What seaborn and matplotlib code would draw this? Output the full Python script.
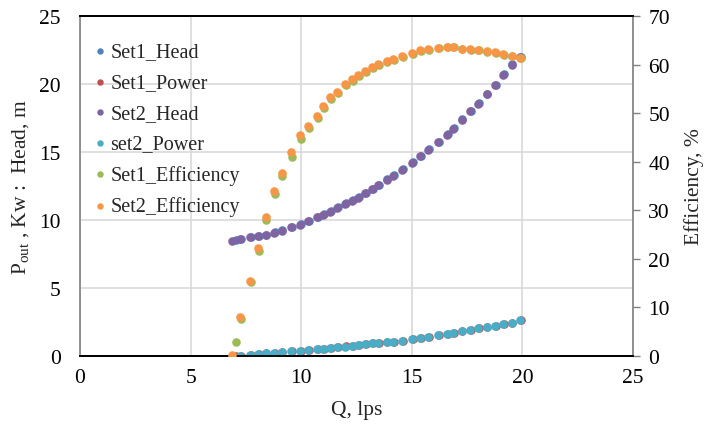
import matplotlib
matplotlib.use("Agg")
import matplotlib.pyplot as plt
import seaborn as sns
import pandas as pd

# ---- data ----
q_set1 = [7.05, 7.27, 7.72, 8.10, 8.43, 8.83, 9.15, 9.58, 10.00, 10.36, 10.74, 11.05, 11.34,
          11.67, 12.02, 12.32, 12.62, 12.92, 13.23, 13.53, 13.90, 14.20, 14.58, 15.04, 15.41,
          15.80, 16.24, 16.62, 16.92, 17.29, 17.67, 18.04, 18.42, 18.80, 19.17, 19.55, 19.93]
head_set1 = [8.50, 8.60, 8.75, 8.86, 8.93, 9.10, 9.25, 9.50, 9.70, 9.93, 10.22, 10.43, 10.63,
             10.92, 11.23, 11.46, 11.68, 11.98, 12.30, 12.60, 13.00, 13.30, 13.72, 14.25, 14.74,
             15.20, 15.76, 16.30, 16.74, 17.40, 18.05, 18.60, 19.30, 19.95, 20.70, 21.45, 22.00]
power_set1 = [0.00, 0.02, 0.08, 0.15, 0.20, 0.25, 0.29, 0.35, 0.38, 0.43, 0.50, 0.52, 0.58,
              0.65, 0.70, 0.75, 0.82, 0.88, 0.93, 0.96, 1.01, 1.06, 1.12, 1.27, 1.32,
              1.41, 1.53, 1.63, 1.70, 1.82, 1.92, 2.04, 2.12, 2.24, 2.34, 2.46, 2.62]
eff_set1 = [2.95, 7.6, 15.2, 21.7, 28.0, 33.3, 37.0, 41.0, 44.6, 47.0, 49.0, 51.0, 52.9,
            54.1, 55.7, 56.7, 57.6, 58.5, 59.3, 59.9, 60.5, 60.9, 61.6, 62.2, 62.7,
            63.1, 63.4, 63.6, 63.6, 63.3, 63.1, 62.9, 62.6, 62.3, 62.0, 61.7, 61.3]

q_set2 = [6.86, 7.23, 7.69, 8.06, 8.39, 8.79, 9.11, 9.54, 9.95, 10.32, 10.70, 11.00, 11.30,
          11.63, 11.98, 12.28, 12.58, 12.88, 13.19, 13.49, 13.86, 14.16, 14.54, 15.00, 15.37,
          15.75, 16.20, 16.58, 16.88, 17.25, 17.63, 18.00, 18.38, 18.76, 19.13, 19.51, 19.89]
head_set2 = [8.43, 8.60, 8.73, 8.85, 8.90, 9.07, 9.22, 9.46, 9.66, 9.90, 10.20, 10.40, 10.60,
             10.88, 11.20, 11.43, 11.64, 11.95, 12.27, 12.56, 12.96, 13.26, 13.68, 14.20, 14.70,
             15.15, 15.71, 16.25, 16.69, 17.38, 18.00, 18.56, 19.30, 19.90, 20.65, 21.40, 21.95]
power_set2 = [0.00, 0.02, 0.07, 0.15, 0.20, 0.24, 0.28, 0.34, 0.37, 0.42, 0.49, 0.51, 0.57,
              0.64, 0.69, 0.74, 0.81, 0.87, 0.92, 0.95, 1.00, 1.05, 1.10, 1.26, 1.31,
              1.40, 1.52, 1.62, 1.69, 1.81, 1.91, 2.03, 2.11, 2.23, 2.33, 2.45, 2.62]
eff_set2 = [0.3, 8.1, 15.5, 22.2, 28.55, 34.0, 37.7, 41.9, 45.4, 47.4, 49.5, 51.5, 53.3,
            54.4, 56.1, 57.0, 57.9, 58.7, 59.6, 60.1, 60.7, 61.1, 61.8, 62.4, 62.9,
            63.2, 63.5, 63.7, 63.7, 63.3, 63.2, 63.1, 62.7, 62.5, 62.2, 61.8, 61.4]

x_ticks = [0, 5, 10, 15, 20, 25]
left_ticks = [0, 5, 10, 15, 20, 25]
right_ticks = [0, 10, 20, 30, 40, 50, 60, 70]

labels = ["Set1_Head", "Set1_Power", "Set2_Head", "set2_Power", "Set1_Efficiency", "Set2_Efficiency"]
colors = ["#4F81BD", "#C0504D", "#8064A2", "#4BACC6", "#9BBB59", "#F79646"]

# ---- styling ----
sns.set_theme(style="white")
plt.rcParams["font.family"] = ["Liberation Serif", "DejaVu Serif"]
plt.rcParams["mathtext.fontset"] = "custom"
plt.rcParams["mathtext.rm"] = "Liberation Serif"
plt.rcParams["mathtext.it"] = "Liberation Serif:italic"

FS = 15.5
LFS = 14.5
fig = plt.figure(figsize=(7.08, 4.31), dpi=100)
ax = fig.add_axes([80 / 708, 1 - 357 / 431, 553 / 708, 340 / 431])
ax2 = ax.twinx()

left_series = [
    (q_set1, head_set1, 0),
    (q_set1, power_set1, 1),
    (q_set2, head_set2, 2),
    (q_set2, power_set2, 3),
]
right_series = [
    (q_set1, eff_set1, 4),
    (q_set2, eff_set2, 5),
]
S = 38
for q, v, i in left_series:
    df = pd.DataFrame({"Q": q, "v": v})
    sns.scatterplot(data=df, x="Q", y="v", ax=ax, color=colors[i], s=S, linewidth=0,
                    label=labels[i], legend=False, zorder=3)
for q, v, i in right_series:
    df = pd.DataFrame({"Q": q, "v": v})
    sns.scatterplot(data=df, x="Q", y="v", ax=ax2, color=colors[i], s=S, linewidth=0,
                    label=labels[i], legend=False, zorder=3)

ax.set_xlim(0, 25)
ax.set_ylim(0, 25)
ax2.set_ylim(0, 70)
ax.set_xticks(x_ticks)
ax.set_yticks(left_ticks)
ax2.set_yticks(right_ticks)
ax.set_xticklabels([str(t) for t in x_ticks], fontsize=FS)
ax.set_yticklabels([str(t) for t in left_ticks], fontsize=FS)
ax2.set_yticklabels([str(t) for t in right_ticks], fontsize=FS)

ax.grid(True, color="#D9D9D9", linewidth=1.2)
ax.set_axisbelow(True)
ax2.grid(False)

ax.tick_params(axis="x", length=0, pad=9, colors="black")
ax.tick_params(axis="y", length=0, pad=14, colors="black")
ax2.tick_params(axis="y", length=5, width=1, color="#808080", pad=6, labelcolor="black", direction="out")

for sp in ["left", "right"]:
    ax.spines[sp].set_color("#808080")
    ax2.spines[sp].set_color("#808080")
    ax.spines[sp].set_linewidth(1.2)
    ax2.spines[sp].set_linewidth(1.2)
for sp in ["top", "bottom"]:
    ax.spines[sp].set_color("#000000")
    ax2.spines[sp].set_color("#000000")
    ax.spines[sp].set_linewidth(1.3)
    ax2.spines[sp].set_linewidth(1.3)
ax.spines["right"].set_visible(False)
ax2.spines["left"].set_visible(False)

ax.set_xlabel("Q, lps", fontsize=FS, labelpad=9)
ax.set_ylabel(r"P$_{\rm out}$ , Kw :  Head, m", fontsize=FS, labelpad=6)
ax2.set_ylabel("Efficiency, %", fontsize=FS, labelpad=10)

h1, l1 = ax.get_legend_handles_labels()
h2, l2 = ax2.get_legend_handles_labels()
leg = ax2.legend(h1 + h2, l1 + l2, loc="upper left", bbox_to_anchor=(0.0, 0.952),
                 frameon=False, fontsize=LFS, handletextpad=0.0, labelspacing=0.57,
                 markerscale=0.75, borderaxespad=0.2, handlelength=1.0, borderpad=0.3)

fig.savefig("out.png", dpi=100)
